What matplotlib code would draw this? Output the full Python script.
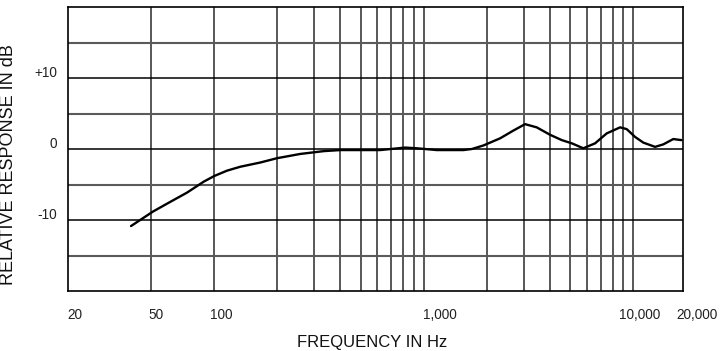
import matplotlib
matplotlib.use("Agg")
import matplotlib.pyplot as plt
import matplotlib.transforms as mtransforms

plt.rcParams['font.family'] = ['Liberation Sans', 'DejaVu Sans']

# frequency response (Hz, dB)
freq = [40, 51, 62, 74, 89, 100, 115, 133, 166, 199, 257, 333, 400, 620,
        816, 928, 1156, 1549, 1700, 1930, 2317, 2684, 3050, 3467, 4017,
        4570, 5100, 5790, 6590, 7490, 8680, 9330, 10230, 11200, 12750,
        13950, 15570, 17060]
resp = [-10.85, -8.8, -7.4, -6.15, -4.6, -3.8, -3.05, -2.5, -1.9, -1.3,
        -0.7, -0.3, -0.15, -0.15, 0.2, 0.1, -0.15, -0.15, 0.0, 0.5, 1.5,
        2.6, 3.5, 3.05, 2.0, 1.25, 0.8, 0.1, 0.8, 2.2, 3.05, 2.8, 1.7, 0.9,
        0.3, 0.65, 1.4, 1.25]

# grid
vlines = [50, 100, 200, 300, 400, 500, 600, 700, 800, 900, 1000,
          2000, 3000, 4000, 5000, 6000, 7000, 8000, 9000, 10000]
hlines_major = [-10, 0, 10]
hlines_minor = [-15, -5, 5, 15]

# tick labels
xtick_vals = [20, 50, 100, 1000, 10000, 20000]
xtick_text = ['20', '50', '100', '1,000', '10,000', '20,000']
ytick_vals = [10, 0, -10]
ytick_text = ['+10', '0', '-10']

fig = plt.figure(figsize=(7.2, 3.51), dpi=100)
ax = fig.add_axes([68 / 720, 1 - 291 / 351, 615 / 720, 284 / 351])
ax.set_xscale('log')
ax.set_xlim(20, 17330)
ax.set_ylim(-20, 20)
ax.set_xticks([])
ax.set_yticks([])
ax.minorticks_off()

for f in vlines:
    ax.axvline(f, color='#4a4a4a', lw=1.3, zorder=1)
for v in hlines_minor:
    ax.axhline(v, color='#5a5a5a', lw=1.5, zorder=1)
for v in hlines_major:
    ax.axhline(v, color='black', lw=1.1, zorder=1)

for s in ax.spines.values():
    s.set_color('black')
    s.set_linewidth(1.2)

ax.plot(freq, resp, color='black', lw=1.7, zorder=3, solid_capstyle='round')

# x tick labels (small nudges to match the printed sheet)
xnudge = [7, 5, 7, 16, 7, 1]
xtrans = ax.get_xaxis_transform()
for v, t, dx in zip(xtick_vals, xtick_text, xnudge):
    tr = mtransforms.offset_copy(xtrans, fig=fig, x=dx, y=-24, units='dots')
    ax.text(v, 0, t, transform=tr, ha='center', va='center', fontsize=9.8,
            color='#222222', clip_on=False)

ytrans = ax.get_yaxis_transform()
for v, t in zip(ytick_vals, ytick_text):
    tr = mtransforms.offset_copy(ytrans, fig=fig, x=-11, y=5, units='dots')
    ax.text(0, v, t, transform=tr, ha='right', va='center', fontsize=9.8,
            color='#222222', clip_on=False)

fig.text(372 / 720, 1 - 342 / 351, 'FREQUENCY IN Hz', ha='center', va='center',
         fontsize=12, color='#111111')
fig.text(9 / 720, 1 - 165 / 351, 'RELATIVE RESPONSE IN dB', ha='center',
         va='center', rotation=90, fontsize=13, color='#111111')

fig.savefig('out.png', dpi=100)
